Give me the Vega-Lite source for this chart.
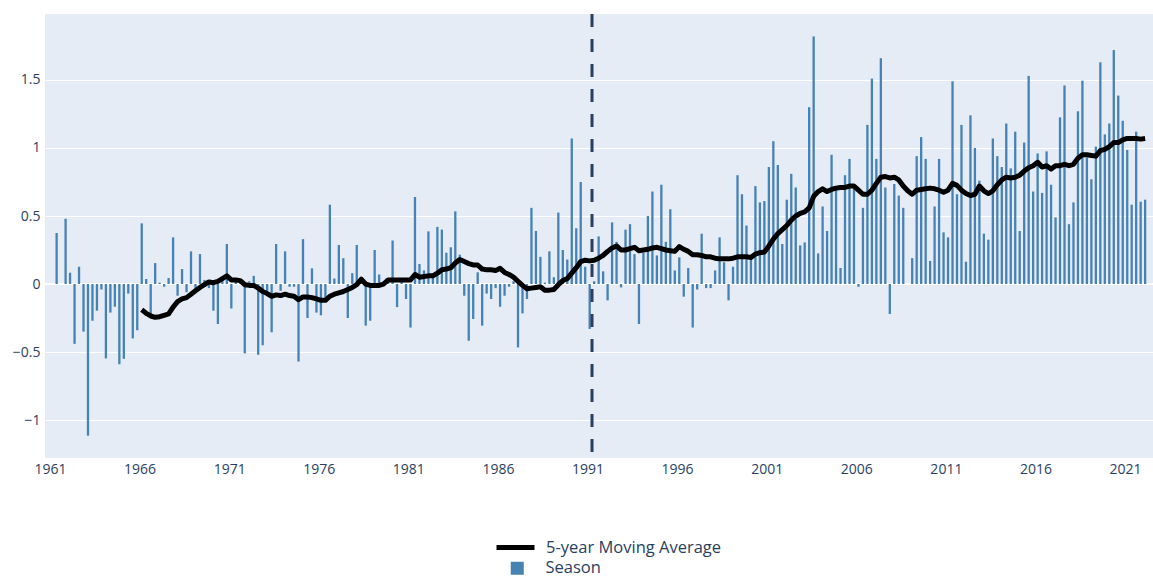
{
  "$schema": "https://vega.github.io/schema/vega-lite/v6.json",
  "width": 1108,
  "height": 444,
  "autosize": {"type": "none"},
  "padding": {"left": 45, "top": 14, "right": 0, "bottom": 121},
  "background": "white",
  "config": {
    "view": {"fill": "#e5ecf6", "stroke": null},
    "font": "Open Sans",
    "axis": {"labelFont": "Open Sans", "labelColor": "#2a3f5f", "labelFontSize": 14, "domain": false, "ticks": false, "title": null},
    "legend": {"labelFont": "Open Sans", "labelColor": "#2a3f5f", "labelFontSize": 16.5, "padding": 0, "title": null, "labelLimit": 0}
  },
  "datasets": {
    "season": [
      {"t":1961.37,"v":0.375},{"t":1961.87,"v":0.48},{"t":1962.12,"v":0.083},
      {"t":1962.37,"v":-0.44},{"t":1962.62,"v":0.127},{"t":1962.87,"v":-0.35},{"t":1963.12,"v":-1.115},
      {"t":1963.37,"v":-0.27},{"t":1963.62,"v":-0.196},{"t":1963.87,"v":-0.04},{"t":1964.12,"v":-0.547},
      {"t":1964.37,"v":-0.21},{"t":1964.62,"v":-0.167},{"t":1964.87,"v":-0.59},{"t":1965.12,"v":-0.55},
      {"t":1965.37,"v":-0.07},{"t":1965.62,"v":-0.4},{"t":1965.87,"v":-0.34},{"t":1966.12,"v":0.446},
      {"t":1966.37,"v":0.037},{"t":1966.62,"v":-0.22},{"t":1966.87,"v":0.154},{"t":1967.12,"v":0.01},
      {"t":1967.37,"v":-0.02},{"t":1967.62,"v":0.044},{"t":1967.87,"v":0.343},{"t":1968.12,"v":-0.086},
      {"t":1968.37,"v":0.11},{"t":1968.62,"v":-0.06},{"t":1968.87,"v":0.24},{"t":1969.12,"v":-0.04},
      {"t":1969.37,"v":0.22},{"t":1969.62,"v":0.03},{"t":1969.87,"v":-0.03},{"t":1970.12,"v":-0.196},
      {"t":1970.37,"v":-0.294},{"t":1970.62,"v":0.03},{"t":1970.87,"v":0.294},{"t":1971.12,"v":-0.18},
      {"t":1971.37,"v":0.03},{"t":1971.62,"v":0.02},{"t":1971.87,"v":-0.51},{"t":1972.12,"v":0.02},
      {"t":1972.37,"v":0.06},{"t":1972.62,"v":-0.52},{"t":1972.87,"v":-0.45},{"t":1973.12,"v":-0.05},
      {"t":1973.37,"v":-0.355},{"t":1973.62,"v":0.294},{"t":1973.87,"v":-0.05},{"t":1974.12,"v":0.24},
      {"t":1974.37,"v":-0.02},{"t":1974.62,"v":-0.02},{"t":1974.87,"v":-0.57},{"t":1975.12,"v":0.33},
      {"t":1975.37,"v":-0.25},{"t":1975.62,"v":0.115},{"t":1975.87,"v":-0.21},{"t":1976.12,"v":-0.23},
      {"t":1976.37,"v":-0.12},{"t":1976.62,"v":0.583},{"t":1976.87,"v":0.04},{"t":1977.12,"v":0.287},
      {"t":1977.37,"v":0.19},{"t":1977.62,"v":-0.25},{"t":1977.87,"v":0.08},{"t":1978.12,"v":0.287},
      {"t":1978.37,"v":0.05},{"t":1978.62,"v":-0.306},{"t":1978.87,"v":-0.27},{"t":1979.12,"v":0.25},
      {"t":1979.37,"v":0.07},{"t":1979.62,"v":0.02},{"t":1979.87,"v":0.02},{"t":1980.12,"v":0.32},
      {"t":1980.37,"v":-0.17},{"t":1980.62,"v":0.02},{"t":1980.87,"v":-0.11},{"t":1981.12,"v":-0.32},
      {"t":1981.37,"v":0.64},{"t":1981.62,"v":0.147},{"t":1981.87,"v":0.1},{"t":1982.12,"v":0.387},
      {"t":1982.37,"v":0.05},{"t":1982.62,"v":0.42},{"t":1982.87,"v":0.4},{"t":1983.12,"v":0.23},
      {"t":1983.37,"v":0.27},{"t":1983.62,"v":0.534},{"t":1983.87,"v":0.216},{"t":1984.12,"v":-0.086},
      {"t":1984.37,"v":-0.417},{"t":1984.62,"v":-0.257},{"t":1984.87,"v":0.086},{"t":1985.12,"v":-0.306},
      {"t":1985.37,"v":-0.07},{"t":1985.62,"v":-0.11},{"t":1985.87,"v":-0.03},{"t":1986.12,"v":-0.167},
      {"t":1986.37,"v":-0.086},{"t":1986.62,"v":-0.02},{"t":1986.87,"v":0.02},{"t":1987.12,"v":-0.466},
      {"t":1987.37,"v":-0.216},{"t":1987.62,"v":-0.11},{"t":1987.87,"v":0.56},{"t":1988.12,"v":0.39},
      {"t":1988.37,"v":0.2},{"t":1988.62,"v":0.01},{"t":1988.87,"v":0.24},{"t":1989.12,"v":0.05},
      {"t":1989.37,"v":0.525},{"t":1989.62,"v":0.25},{"t":1989.87,"v":0.18},{"t":1990.12,"v":1.07},
      {"t":1990.37,"v":0.41},{"t":1990.62,"v":0.75},{"t":1990.87,"v":0.127},{"t":1991.12,"v":-0.33},
      {"t":1991.37,"v":0.02},{"t":1991.62,"v":0.35},{"t":1991.87,"v":0.093},{"t":1992.12,"v":-0.12},
      {"t":1992.37,"v":0.453},{"t":1992.62,"v":0.31},{"t":1992.87,"v":-0.025},{"t":1993.12,"v":0.4},
      {"t":1993.37,"v":0.44},{"t":1993.62,"v":0.22},{"t":1993.87,"v":-0.294},{"t":1994.12,"v":0.23},
      {"t":1994.37,"v":0.5},{"t":1994.62,"v":0.68},{"t":1994.87,"v":0.21},{"t":1995.12,"v":0.73},
      {"t":1995.37,"v":0.31},{"t":1995.62,"v":0.55},{"t":1995.87,"v":0.1},{"t":1996.12,"v":0.196},
      {"t":1996.37,"v":-0.093},{"t":1996.62,"v":0.118},{"t":1996.87,"v":-0.32},{"t":1997.12,"v":-0.04},
      {"t":1997.37,"v":0.37},{"t":1997.62,"v":-0.03},{"t":1997.87,"v":-0.03},{"t":1998.12,"v":0.1},
      {"t":1998.37,"v":0.343},{"t":1998.62,"v":0.16},{"t":1998.87,"v":-0.12},{"t":1999.12,"v":0.127},
      {"t":1999.37,"v":0.8},{"t":1999.62,"v":0.66},{"t":1999.87,"v":0.43},{"t":2000.12,"v":0.2},
      {"t":2000.37,"v":0.72},{"t":2000.62,"v":0.6},{"t":2000.87,"v":0.61},{"t":2001.12,"v":0.86},
      {"t":2001.37,"v":1.05},{"t":2001.62,"v":0.875},{"t":2001.87,"v":0.294},{"t":2002.12,"v":0.62},
      {"t":2002.37,"v":0.81},{"t":2002.62,"v":0.71},{"t":2002.87,"v":0.284},{"t":2003.12,"v":0.306},
      {"t":2003.37,"v":1.3},{"t":2003.62,"v":1.82},{"t":2003.87,"v":0.225},{"t":2004.12,"v":0.57},
      {"t":2004.37,"v":0.39},{"t":2004.62,"v":0.95},{"t":2004.87,"v":0.7},{"t":2005.12,"v":0.118},
      {"t":2005.37,"v":0.8},{"t":2005.62,"v":0.92},{"t":2005.87,"v":0.7},{"t":2006.12,"v":-0.02},
      {"t":2006.37,"v":0.56},{"t":2006.62,"v":1.17},{"t":2006.87,"v":1.51},{"t":2007.12,"v":0.92},
      {"t":2007.37,"v":1.66},{"t":2007.62,"v":0.71},{"t":2007.87,"v":-0.22},{"t":2008.12,"v":0.735},
      {"t":2008.37,"v":0.65},{"t":2008.62,"v":0.56},{"t":2009.12,"v":0.19},
      {"t":2009.37,"v":0.94},{"t":2009.62,"v":1.08},{"t":2009.87,"v":0.92},{"t":2010.12,"v":0.17},
      {"t":2010.37,"v":0.57},{"t":2010.62,"v":0.92},{"t":2010.87,"v":0.38},{"t":2011.12,"v":0.343},
      {"t":2011.37,"v":1.49},{"t":2011.62,"v":0.66},{"t":2011.87,"v":1.17},{"t":2012.12,"v":0.164},
      {"t":2012.37,"v":1.24},{"t":2012.62,"v":1.0},{"t":2012.87,"v":0.76},{"t":2013.12,"v":0.37},
      {"t":2013.37,"v":0.326},{"t":2013.62,"v":1.07},{"t":2013.87,"v":0.94},{"t":2014.12,"v":0.86},
      {"t":2014.37,"v":1.18},{"t":2014.62,"v":0.85},{"t":2014.87,"v":1.12},{"t":2015.12,"v":0.39},
      {"t":2015.37,"v":1.04},{"t":2015.62,"v":1.53},{"t":2015.87,"v":0.68},{"t":2016.12,"v":0.96},
      {"t":2016.37,"v":0.67},{"t":2016.62,"v":0.975},{"t":2016.87,"v":0.73},{"t":2017.12,"v":0.49},
      {"t":2017.37,"v":1.225},{"t":2017.62,"v":1.46},{"t":2017.87,"v":0.44},{"t":2018.12,"v":0.6},
      {"t":2018.37,"v":1.27},{"t":2018.62,"v":1.495},{"t":2018.87,"v":0.93},{"t":2019.12,"v":0.77},
      {"t":2019.37,"v":1.01},{"t":2019.62,"v":1.63},{"t":2019.87,"v":1.1},{"t":2020.12,"v":1.18},
      {"t":2020.37,"v":1.72},{"t":2020.62,"v":1.385},{"t":2020.87,"v":1.2},{"t":2021.12,"v":0.985},
      {"t":2021.37,"v":0.583},{"t":2021.62,"v":1.12},{"t":2021.87,"v":0.605},{"t":2022.12,"v":0.62}
    ],
    "ma": [
      {"t":1966.12,"v":-0.19},{"t":1966.37,"v":-0.215},{"t":1966.62,"v":-0.235},{"t":1966.87,"v":-0.245},
      {"t":1967.12,"v":-0.24},{"t":1967.37,"v":-0.23},{"t":1967.62,"v":-0.22},{"t":1967.87,"v":-0.17},
      {"t":1968.12,"v":-0.13},{"t":1968.37,"v":-0.11},{"t":1968.62,"v":-0.1},{"t":1968.87,"v":-0.075},
      {"t":1969.12,"v":-0.05},{"t":1969.37,"v":-0.025},{"t":1969.62,"v":-0.005},{"t":1969.87,"v":0.015},
      {"t":1970.12,"v":0.01},{"t":1970.37,"v":0.02},{"t":1970.62,"v":0.04},{"t":1970.87,"v":0.06},
      {"t":1971.12,"v":0.03},{"t":1971.37,"v":0.03},{"t":1971.62,"v":0.025},{"t":1971.87,"v":-0.005},
      {"t":1972.12,"v":-0.01},{"t":1972.37,"v":-0.01},{"t":1972.62,"v":-0.03},{"t":1972.87,"v":-0.055},
      {"t":1973.12,"v":-0.07},{"t":1973.37,"v":-0.09},{"t":1973.62,"v":-0.08},{"t":1973.87,"v":-0.085},
      {"t":1974.12,"v":-0.075},{"t":1974.37,"v":-0.085},{"t":1974.62,"v":-0.09},{"t":1974.87,"v":-0.115},
      {"t":1975.12,"v":-0.095},{"t":1975.37,"v":-0.095},{"t":1975.62,"v":-0.1},{"t":1975.87,"v":-0.11},
      {"t":1976.12,"v":-0.12},{"t":1976.37,"v":-0.12},{"t":1976.62,"v":-0.09},{"t":1976.87,"v":-0.075},
      {"t":1977.12,"v":-0.065},{"t":1977.37,"v":-0.055},{"t":1977.62,"v":-0.04},{"t":1977.87,"v":-0.025},
      {"t":1978.12,"v":-0.005},{"t":1978.37,"v":0.035},{"t":1978.62,"v":0.0},{"t":1978.87,"v":-0.01},
      {"t":1979.12,"v":-0.01},{"t":1979.37,"v":-0.01},{"t":1979.62,"v":0.0},{"t":1979.87,"v":0.03},
      {"t":1980.12,"v":0.03},{"t":1980.37,"v":0.03},{"t":1980.62,"v":0.03},{"t":1980.87,"v":0.03},
      {"t":1981.12,"v":0.03},{"t":1981.37,"v":0.07},{"t":1981.62,"v":0.05},{"t":1981.87,"v":0.055},
      {"t":1982.12,"v":0.06},{"t":1982.37,"v":0.06},{"t":1982.62,"v":0.08},{"t":1982.87,"v":0.105},
      {"t":1983.12,"v":0.11},{"t":1983.37,"v":0.12},{"t":1983.62,"v":0.155},{"t":1983.87,"v":0.18},
      {"t":1984.12,"v":0.165},{"t":1984.37,"v":0.15},{"t":1984.62,"v":0.14},{"t":1984.87,"v":0.14},
      {"t":1985.12,"v":0.11},{"t":1985.37,"v":0.105},{"t":1985.62,"v":0.105},{"t":1985.87,"v":0.1},
      {"t":1986.12,"v":0.115},{"t":1986.37,"v":0.085},{"t":1986.62,"v":0.07},{"t":1986.87,"v":0.05},
      {"t":1987.12,"v":0.02},{"t":1987.37,"v":-0.01},{"t":1987.62,"v":-0.035},{"t":1987.87,"v":-0.03},
      {"t":1988.12,"v":-0.025},{"t":1988.37,"v":-0.02},{"t":1988.62,"v":-0.045},{"t":1988.87,"v":-0.045},
      {"t":1989.12,"v":-0.04},{"t":1989.37,"v":-0.005},{"t":1989.62,"v":0.025},{"t":1989.87,"v":0.04},
      {"t":1990.12,"v":0.08},{"t":1990.37,"v":0.12},{"t":1990.62,"v":0.165},{"t":1990.87,"v":0.175},
      {"t":1991.12,"v":0.17},{"t":1991.37,"v":0.175},{"t":1991.62,"v":0.19},{"t":1991.87,"v":0.21},
      {"t":1992.12,"v":0.24},{"t":1992.37,"v":0.265},{"t":1992.62,"v":0.28},{"t":1992.87,"v":0.25},
      {"t":1993.12,"v":0.25},{"t":1993.37,"v":0.26},{"t":1993.62,"v":0.27},{"t":1993.87,"v":0.245},
      {"t":1994.12,"v":0.25},{"t":1994.37,"v":0.255},{"t":1994.62,"v":0.265},{"t":1994.87,"v":0.27},
      {"t":1995.12,"v":0.26},{"t":1995.37,"v":0.25},{"t":1995.62,"v":0.245},{"t":1995.87,"v":0.24},
      {"t":1996.12,"v":0.275},{"t":1996.37,"v":0.255},{"t":1996.62,"v":0.24},{"t":1996.87,"v":0.215},
      {"t":1997.12,"v":0.215},{"t":1997.37,"v":0.21},{"t":1997.62,"v":0.2},{"t":1997.87,"v":0.2},
      {"t":1998.12,"v":0.19},{"t":1998.37,"v":0.185},{"t":1998.62,"v":0.185},{"t":1998.87,"v":0.185},
      {"t":1999.12,"v":0.19},{"t":1999.37,"v":0.2},{"t":1999.62,"v":0.2},{"t":1999.87,"v":0.2},
      {"t":2000.12,"v":0.195},{"t":2000.37,"v":0.22},{"t":2000.62,"v":0.23},{"t":2000.87,"v":0.235},
      {"t":2001.12,"v":0.28},{"t":2001.37,"v":0.33},{"t":2001.62,"v":0.37},{"t":2001.87,"v":0.4},
      {"t":2002.12,"v":0.43},{"t":2002.37,"v":0.47},{"t":2002.62,"v":0.5},{"t":2002.87,"v":0.52},
      {"t":2003.12,"v":0.53},{"t":2003.37,"v":0.56},{"t":2003.62,"v":0.645},{"t":2003.87,"v":0.68},
      {"t":2004.12,"v":0.7},{"t":2004.37,"v":0.68},{"t":2004.62,"v":0.695},{"t":2004.87,"v":0.705},
      {"t":2005.12,"v":0.71},{"t":2005.37,"v":0.71},{"t":2005.62,"v":0.72},{"t":2005.87,"v":0.72},
      {"t":2006.12,"v":0.69},{"t":2006.37,"v":0.66},{"t":2006.62,"v":0.66},{"t":2006.87,"v":0.69},
      {"t":2007.12,"v":0.74},{"t":2007.37,"v":0.785},{"t":2007.62,"v":0.79},{"t":2007.87,"v":0.78},
      {"t":2008.12,"v":0.785},{"t":2008.37,"v":0.765},{"t":2008.62,"v":0.72},{"t":2008.87,"v":0.685},
      {"t":2009.12,"v":0.66},{"t":2009.37,"v":0.69},{"t":2009.62,"v":0.695},{"t":2009.87,"v":0.7},
      {"t":2010.12,"v":0.705},{"t":2010.37,"v":0.7},{"t":2010.62,"v":0.69},{"t":2010.87,"v":0.675},
      {"t":2011.12,"v":0.69},{"t":2011.37,"v":0.74},{"t":2011.62,"v":0.725},{"t":2011.87,"v":0.69},
      {"t":2012.12,"v":0.665},{"t":2012.37,"v":0.65},{"t":2012.62,"v":0.66},{"t":2012.87,"v":0.72},
      {"t":2013.12,"v":0.685},{"t":2013.37,"v":0.665},{"t":2013.62,"v":0.685},{"t":2013.87,"v":0.73},
      {"t":2014.12,"v":0.765},{"t":2014.37,"v":0.785},{"t":2014.62,"v":0.78},{"t":2014.87,"v":0.785},
      {"t":2015.12,"v":0.8},{"t":2015.37,"v":0.83},{"t":2015.62,"v":0.855},{"t":2015.87,"v":0.87},
      {"t":2016.12,"v":0.895},{"t":2016.37,"v":0.86},{"t":2016.62,"v":0.87},{"t":2016.87,"v":0.845},
      {"t":2017.12,"v":0.87},{"t":2017.37,"v":0.87},{"t":2017.62,"v":0.88},{"t":2017.87,"v":0.87},
      {"t":2018.12,"v":0.88},{"t":2018.37,"v":0.925},{"t":2018.62,"v":0.95},{"t":2018.87,"v":0.95},
      {"t":2019.12,"v":0.945},{"t":2019.37,"v":0.94},{"t":2019.62,"v":0.98},{"t":2019.87,"v":0.99},
      {"t":2020.12,"v":1.01},{"t":2020.37,"v":1.04},{"t":2020.62,"v":1.04},{"t":2020.87,"v":1.06},
      {"t":2021.12,"v":1.07},{"t":2021.37,"v":1.07},{"t":2021.62,"v":1.07},{"t":2021.87,"v":1.065},
      {"t":2022.12,"v":1.07}
    ],
    "marker": [{"t": 1991.25}],
    "zero": [{"v": 0}]
  },
  "layer": [
    {
      "data": {"name": "zero"},
      "mark": {"type": "rule", "color": "white", "strokeWidth": 2},
      "encoding": {"y": {"field": "v", "type": "quantitative"}}
    },
    {
      "data": {"name": "season"},
      "mark": {"type": "bar", "width": 2.3},
      "encoding": {
        "x": {
          "field": "t", "type": "quantitative",
          "scale": {"domain": [1961, 2022.28], "nice": false, "zero": false},
          "axis": {"values": [1961, 1966, 1971, 1976, 1981, 1986, 1991, 1996, 2001, 2006, 2011, 2016, 2021], "format": "d", "grid": false, "labelPadding": 4}
        },
        "y": {
          "field": "v", "type": "quantitative",
          "scale": {"domain": [-1.279, 1.985], "nice": false},
          "axis": {"values": [-1, -0.5, 0, 0.5, 1, 1.5], "format": "~g", "grid": true, "gridColor": "white", "gridWidth": 1, "labelPadding": 5}
        },
        "fill": {
          "datum": "Season",
          "scale": {"domain": ["Season"], "range": ["#4682b4"]},
          "legend": {"orient": "none", "legendX": 464, "legendY": 546, "symbolType": "square", "symbolSize": 169, "labelOffset": 20, "symbolStrokeWidth": 0}
        }
      }
    },
    {
      "data": {"name": "marker"},
      "mark": {"type": "rule", "color": "#2a3f5f", "strokeWidth": 3, "strokeDash": [13, 12]},
      "encoding": {"x": {"field": "t", "type": "quantitative"}}
    },
    {
      "data": {"name": "ma"},
      "mark": {"type": "line", "strokeWidth": 5, "strokeJoin": "round"},
      "encoding": {
        "x": {"field": "t", "type": "quantitative"},
        "y": {"field": "v", "type": "quantitative"},
        "stroke": {
          "datum": "5-year Moving Average",
          "scale": {"domain": ["5-year Moving Average"], "range": ["black"]},
          "legend": {"orient": "none", "legendX": 449, "legendY": 512, "symbolType": "stroke", "symbolSize": 1444, "symbolStrokeWidth": 5, "labelOffset": 9}
        }
      }
    }
  ]
}
